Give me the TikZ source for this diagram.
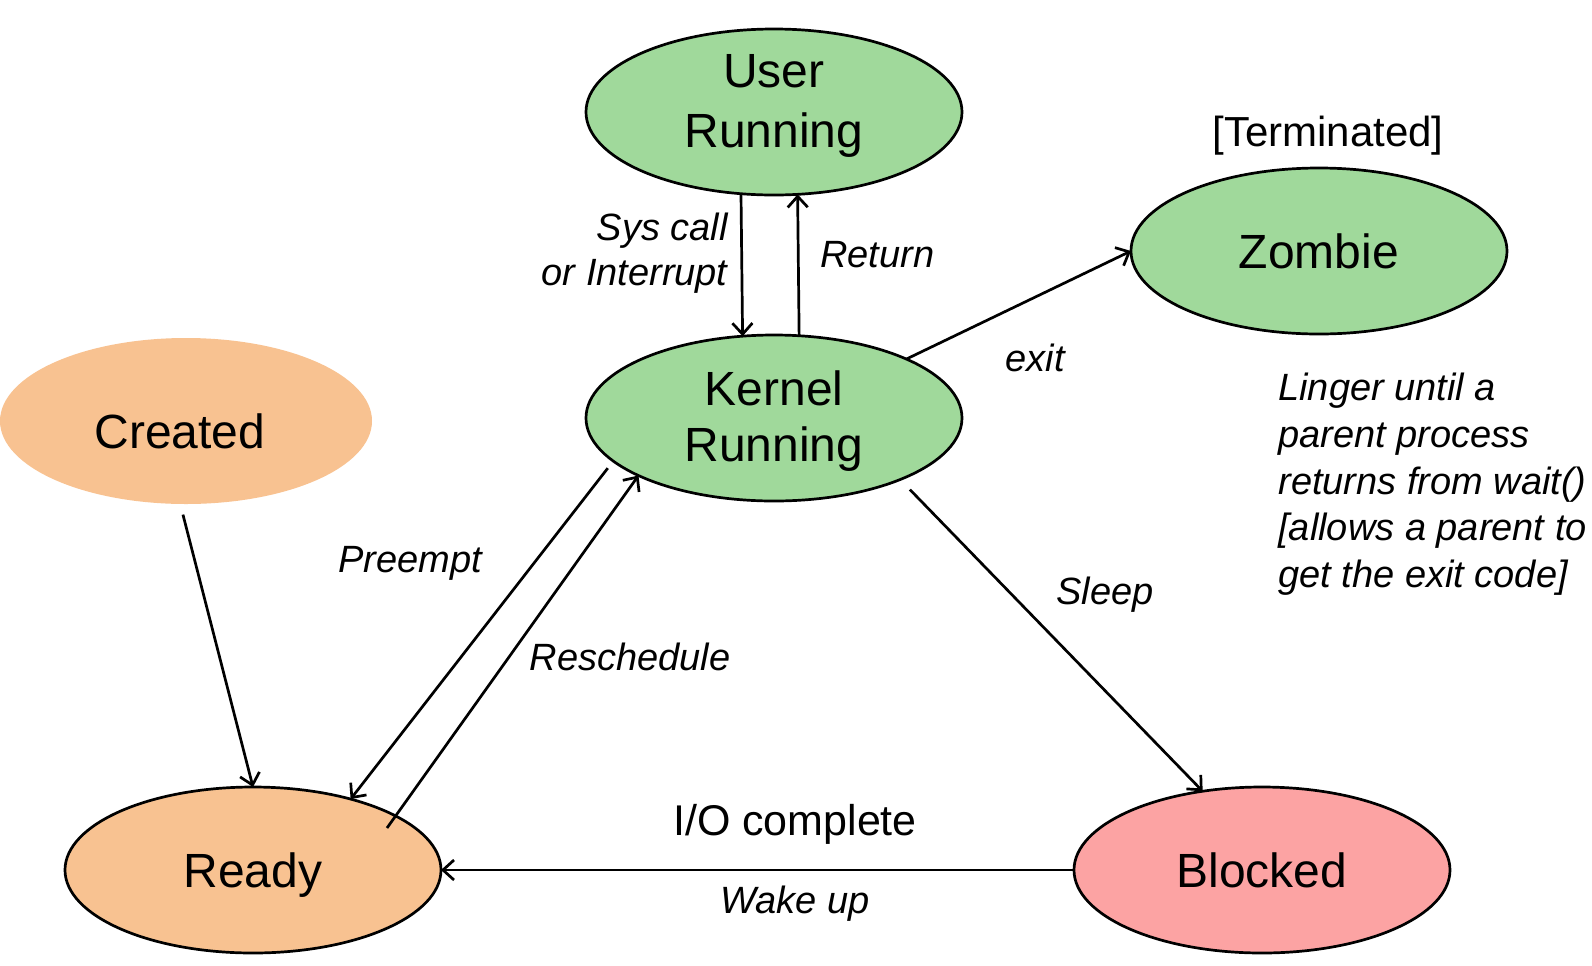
\documentclass[tikz,border=0pt]{standalone}
\usepackage{fontspec}
\setmainfont{Liberation Sans}
\usetikzlibrary{arrows.meta,calc,shapes.geometric}
\definecolor{stgreen}{RGB}{160,217,155}
\definecolor{storange}{RGB}{248,194,145}
\definecolor{stpink}{RGB}{252,163,163}
\begin{document}
\begin{tikzpicture}[x=0.5pt,y=-0.5pt,
  state/.style={ellipse, minimum width=188pt, minimum height=83pt, inner sep=0pt, outer sep=0pt,
    draw=black, line width=1.35pt, font=\fontsize{24}{30}\selectfont, align=center},
  lbl/.style={font=\fontsize{19}{22.5}\selectfont\itshape, inner sep=0pt},
  arr/.style={-{Straight Barb[length=5.5pt,width=10pt,line width=1.35pt]}, line width=1.35pt}
]
\useasboundingbox (0,0) rectangle (1592,965);

% states
\node[state, fill=stgreen, text height=23pt, text depth=17pt] (user) at (774,112)
  {\begin{tabular}{@{}c@{}}User\\Running\end{tabular}};
\node[state, fill=stgreen, text height=28pt, text depth=12pt] (kernel) at (774,418)
  {\begin{tabular}{@{}c@{}}Kernel\\[-2pt]Running\end{tabular}};
\node[state, fill=stgreen] (zombie) at (1319,251) {Zombie};
\node[state, fill=storange, draw=none, minimum width=186pt, text height=27.4pt, text depth=0pt] (created) at (186,421)
  {Created\kern6pt};
\node[state, fill=storange, text depth=0pt] (ready) at (253,870) {Ready};
\node[state, fill=stpink] (blocked) at (1262,870) {Blocked};

\coordinate (rs) at ($(ready.center)+(134,-42)$);

% connectors
\draw[arr] (user.248.7) -- (kernel.111.3);
\draw[arr] (kernel.73.7) -- (user.286.3);
\draw[arr] (kernel.24.6) -- (zombie.west);
\draw[arr, shorten <=4.5pt] (kernel.195.7) -- (ready.36.6);
\draw[arr] (rs) -- (kernel.203.4);
\draw[arr, shorten <=7pt] (kernel.334.7) -- (blocked.127);
\draw[arr, shorten <=5.5pt] (created.266.3) -- (ready.north);
\draw[arr] (blocked.west) -- (ready.east);

% labels
\node[lbl, align=right, anchor=east] (lsys) at (728,253) {Sys call\\or Interrupt};
\node[lbl, anchor=west] (lret) at (820,255) {Return};
\node[lbl] (lexit) at (1035,358) {exit};
\node[lbl] (lpre) at (410,563) {Preempt};
\node[lbl] (lres) at (630,657) {Reschedule};
\node[lbl] (lsleep) at (1105,595) {Sleep};
\node[inner sep=0pt, font=\fontsize{21.5}{25}\selectfont] (lio) at (795,824) {I/O complete};
\node[lbl] (lwake) at (795,904) {Wake up};
\node[inner sep=0pt, font=\fontsize{21}{24}\selectfont] (lterm) at (1328,136) {[Terminated]};
\node[lbl, font=\fontsize{19}{23.3}\selectfont\itshape, align=left, anchor=north west] (linger) at (1278,373)
  {Linger until a\\parent process\\returns from wait()\\{}[allows a parent to\\get the exit code]};
\end{tikzpicture}
\end{document}
